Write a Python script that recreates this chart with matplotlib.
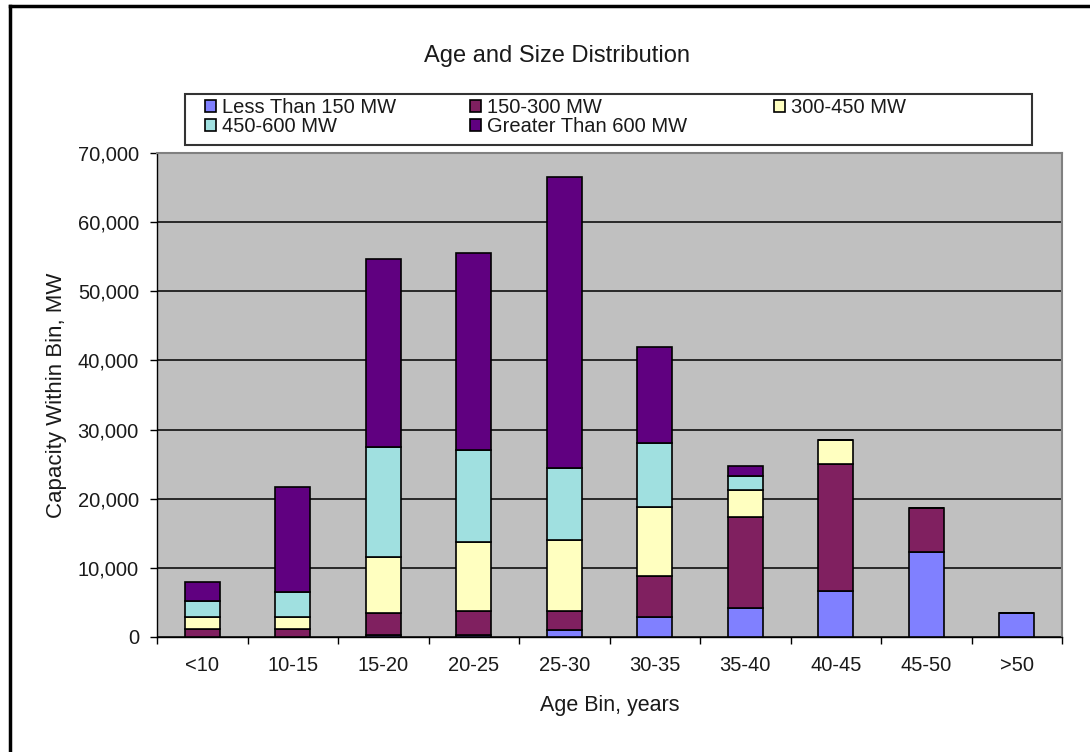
import matplotlib.pyplot as plt
from matplotlib.lines import Line2D
from matplotlib.patches import Rectangle
from matplotlib.ticker import FuncFormatter
import numpy as np

plt.rcParams['font.family'] = ['Liberation Sans', 'DejaVu Sans']

# Donnees (MW)
age_bins = ["<10", "10-15", "15-20", "20-25", "25-30", "30-35", "35-40", "40-45", "45-50", ">50"]
lt_150 = [0, 0, 300, 300, 1000, 2850, 4150, 6700, 12250, 3400]
mw_150_300 = [1150, 1150, 3200, 3500, 2800, 5950, 13250, 18300, 6350, 0]
mw_300_450 = [1750, 1750, 8100, 9900, 10300, 10050, 3800, 3500, 0, 0]
mw_450_600 = [2300, 3600, 15900, 13300, 10300, 9250, 2100, 0, 0, 0]
gt_600 = [2750, 15200, 27200, 28500, 42200, 13800, 1400, 0, 0, 0]

series = [
    ("Less Than 150 MW", lt_150, "#8080ff"),
    ("150-300 MW", mw_150_300, "#802060"),
    ("300-450 MW", mw_300_450, "#ffffc0"),
    ("450-600 MW", mw_450_600, "#a0e0e0"),
    ("Greater Than 600 MW", gt_600, "#600080"),
]

W, H = 1090, 752
fig = plt.figure(figsize=(W / 100, H / 100), dpi=100)
ax = fig.add_axes([157 / W, 1 - 637 / H, 905 / W, 484 / H])
ax.set_facecolor("#c0c0c0")

x = np.arange(len(age_bins))
bottom = np.zeros(len(age_bins))
handles = {}
for name, vals, col in series:
    vals = np.array(vals, dtype=float)
    b = ax.bar(x, vals, 0.39, bottom=bottom, color=col, edgecolor="black",
               linewidth=1.2, label=name, zorder=3)
    handles[name] = b
    bottom += vals

ax.set_xlim(-0.5, len(age_bins) - 0.5)
ax.set_ylim(0, 70000)
ax.set_yticks(np.arange(0, 70001, 10000))
ax.yaxis.set_major_formatter(FuncFormatter(lambda v, p: f"{int(v):,}"))
ax.yaxis.grid(True, color="black", linewidth=1.1, zorder=1)
ax.set_axisbelow(True)

txt = "#1a1a1a"
ax.set_xticks(x)
ax.set_xticklabels(age_bins)
ax.set_xticks(np.arange(-0.5, len(age_bins)), minor=True)
ax.tick_params(axis="x", which="major", length=0, pad=14, labelsize=14.5, colors=txt)
ax.tick_params(axis="x", which="minor", length=5, width=1, direction="out")
ax.tick_params(axis="y", length=5, width=1, direction="out", labelsize=14.5, pad=8, labelcolor=txt)

for s in ["left", "bottom"]:
    ax.spines[s].set_color("black")
    ax.spines[s].set_linewidth(1)
for s in ["top", "right"]:
    ax.spines[s].set_color("#808080")
    ax.spines[s].set_linewidth(1.5)

ax.set_xlabel("Age Bin, years", fontsize=15.5, color=txt, labelpad=14)
ax.set_ylabel("Capacity Within Bin, MW", fontsize=16, color=txt, labelpad=8)

fig.text(557 / W, 1 - 62 / H, "Age and Size Distribution",
         ha="center", va="baseline", fontsize=17, color=txt)

# Legende : trois colonnes comme dans Excel
cols = [(["Less Than 150 MW", "450-600 MW"], 205),
        (["150-300 MW", "Greater Than 600 MW"], 470),
        (["300-450 MW"], 774)]
for names, xpos in cols:
    fig.legend([handles[n] for n in names], names, ncol=1, frameon=False,
               loc="upper left", bbox_to_anchor=(xpos / W, 1 - 98 / H),
               fontsize=14.5, handlelength=0.55, handleheight=0.55, handletextpad=0.3,
               labelspacing=0.02, borderpad=0, borderaxespad=0, labelcolor=txt)
fig.patches.append(Rectangle((185 / W, 1 - 145 / H), (1032 - 185) / W, 51 / H,
                             transform=fig.transFigure, facecolor="white",
                             edgecolor="#333333", linewidth=1.5, zorder=0))

# Cadre de la page
fig.add_artist(Line2D([10 / W, 10 / W], [0, 1 - 6 / H], color="black", linewidth=2.5,
                      transform=fig.transFigure))
fig.add_artist(Line2D([10 / W, 1], [1 - 6 / H, 1 - 6 / H], color="black", linewidth=2.5,
                      transform=fig.transFigure))

fig.savefig("out.png", dpi=100)
plt.close(fig)
